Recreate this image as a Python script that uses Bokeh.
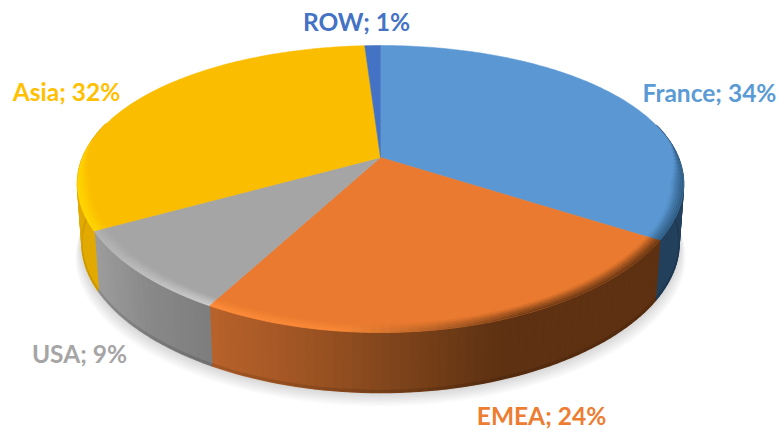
import numpy as np
from bokeh.plotting import figure
from bokeh.embed import file_html
from bokeh.resources import INLINE
from bokeh.core.properties import value

# --- data -------------------------------------------------------------
names = ["France", "EMEA", "USA", "Asia", "ROW"]
shares = [34, 24, 9, 32, 1]
face_colors = ["#5B98D3", "#EA7A2F", "#A5A5A5", "#FBBD00", "#4472C4"]
label_colors = ["#5B9BD5", "#ED7D31", "#A5A5A5", "#FFC000", "#4472C4"]
label_xy = [(709, 92), (541, 415), (79, 353), (66, 91), (356, 21)]

# side colours as (x pixel, colour) stops per slice
side_stops = [
    [(0, "#23405C"), (800, "#23405C")],
    [(210, "#B8622A"), (300, "#A05524"), (390, "#80451B"), (500, "#5E3112"), (800, "#5E3112")],
    [(95, "#9C9C9C"), (150, "#888888"), (215, "#7C7C7C")],
    [(0, "#E2AA00"), (800, "#E2AA00")],
    [(0, "#2F5190"), (800, "#2F5190")],
]
# bevel colours as (x pixel, colour) stops per slice
rim_stops = [
    [(0, "#2E5A80"), (800, "#2E5A80")],
    [(210, "#FF8E3C"), (340, "#F98A38"), (420, "#B9652A"), (520, "#6A3814"), (800, "#5E3112")],
    [(95, "#B4B4B4"), (200, "#CFCFCF"), (215, "#CFCFCF")],
    [(0, "#FFD800"), (800, "#FFD800")],
    [(0, "#4472C4"), (800, "#4472C4")],
]

# --- projection of the disc ------------------------------------------
CX, CY = 380.0, 157.0
A, B, K_X, K_Y = 297.8, 136.6, 0.185, 0.2195
DEPTH = 60.0
LOWER_X = 0.985


def top_xy(theta, r=1.0):
    u, v = r * np.sin(theta), r * np.cos(theta)
    return CX + A * u / (1 + K_X * v), CY - B * v / (1 + K_Y * v)


def low_xy(theta, d=DEPTH):
    x, y = top_xy(theta)
    return CX + (x - CX) * LOWER_X, y + d


def hex2rgb(c):
    return np.array([int(c[i:i + 2], 16) for i in (1, 3, 5)], dtype=float)


def rgb2hex(c):
    return "#%02X%02X%02X" % tuple(int(round(v)) for v in np.clip(c, 0, 255))


def stop_color(stops, x):
    xs = [s[0] for s in stops]
    cols = np.array([hex2rgb(s[1]) for s in stops])
    return np.array([np.interp(x, xs, cols[:, i]) for i in range(3)])


p = figure(width=780, height=430, x_range=(0, 780), y_range=(430, 0),
           toolbar_location=None, output_backend="svg", min_border=0)
p.axis.visible = False
p.grid.visible = False
p.outline_line_color = None
p.background_fill_color = "#FFFFFF"
p.border_fill_color = "#FFFFFF"

total = float(sum(shares))
edges = 2 * np.pi * np.concatenate([[0], np.cumsum(shares)]) / total

# soft shadow under the body
full = np.linspace(0, 2 * np.pi, 181)
sx, sy = low_xy(full)
for i in range(1, 9):
    p.patch(CX + (sx - CX) * (1 + 0.0028 * i), sy + 1.7 * i,
            fill_color="#000000", fill_alpha=0.018, line_color=None)

# sides, back to front
qx, qy, qc, lx, ly, lc = [], [], [], [], [], []
for k, (a0, a1) in enumerate(zip(edges[:-1], edges[1:])):
    n = max(2, int((a1 - a0) / np.radians(1.5)))
    t = np.linspace(a0, a1, n + 1)
    for t0, t1 in zip(t[:-1], t[1:]):
        if np.cos((t0 + t1) / 2) > 0.25:
            continue
        x0, y0 = top_xy(t0)
        x1, y1 = top_xy(t1)
        x2, y2 = low_xy(t1)
        x3, y3 = low_xy(t0)
        col = stop_color(side_stops[k], (x0 + x1) / 2)
        qx.append([x0, x1, x2, x3])
        qy.append([y0, y1, y2, y3])
        qc.append(rgb2hex(col))
        # thin darker lip at the lower edge
        x4, y4 = low_xy(t1, DEPTH - 2.5)
        x5, y5 = low_xy(t0, DEPTH - 2.5)
        lx.append([x5, x4, x2, x3])
        ly.append([y5, y4, y2, y3])
        lc.append(rgb2hex(col * 0.88))
p.patches(qx, qy, fill_color=qc, line_color=qc, line_width=1.5)
p.patches(lx, ly, fill_color=lc, line_color=lc, line_width=0.3)

# top faces
for k, (a0, a1) in enumerate(zip(edges[:-1], edges[1:])):
    t = np.linspace(a0, a1, max(3, int((a1 - a0) / np.radians(1.0))))
    x, y = top_xy(t)
    p.patch(np.r_[CX, x], np.r_[CY, y], fill_color=face_colors[k],
            line_color=face_colors[k], line_width=0.5)

# bevel along the front of the rim
RINGS = 6
rx, ry, rc = [], [], []
for k, (a0, a1) in enumerate(zip(edges[:-1], edges[1:])):
    n = max(2, int((a1 - a0) / np.radians(1.5)))
    t = np.linspace(a0, a1, n + 1)
    face = hex2rgb(face_colors[k])
    for t0, t1 in zip(t[:-1], t[1:]):
        s = np.clip((0.12 - np.cos((t0 + t1) / 2)) / 0.30, 0, 1)
        if s <= 0:
            continue
        xm, _ = top_xy((t0 + t1) / 2)
        rim = stop_color(rim_stops[k], xm)
        for j in range(RINGS):
            ro, ri = 1 - 0.04 * s * j / RINGS, 1 - 0.04 * s * (j + 1) / RINGS
            x0, y0 = top_xy(t0, ro)
            x1, y1 = top_xy(t1, ro)
            x2, y2 = top_xy(t1, ri)
            x3, y3 = top_xy(t0, ri)
            f = (1 - (j + 0.5) / RINGS) ** 0.8
            c = rgb2hex(face + (rim - face) * f)
            rx.append([x0, x1, x2, x3])
            ry.append([y0, y1, y2, y3])
            rc.append(c)
p.patches(rx, ry, fill_color=rc, line_color=rc, line_width=0.4)

# labels
p.text([q[0] for q in label_xy], [q[1] for q in label_xy],
       text=[f"{n}; {v}%" for n, v in zip(names, shares)],
       text_color=label_colors, text_font=value("Lato"), text_font_style="bold",
       text_font_size="24.5px", text_align="center", text_baseline="middle")

open("out.html", "w").write(file_html(p, INLINE))
